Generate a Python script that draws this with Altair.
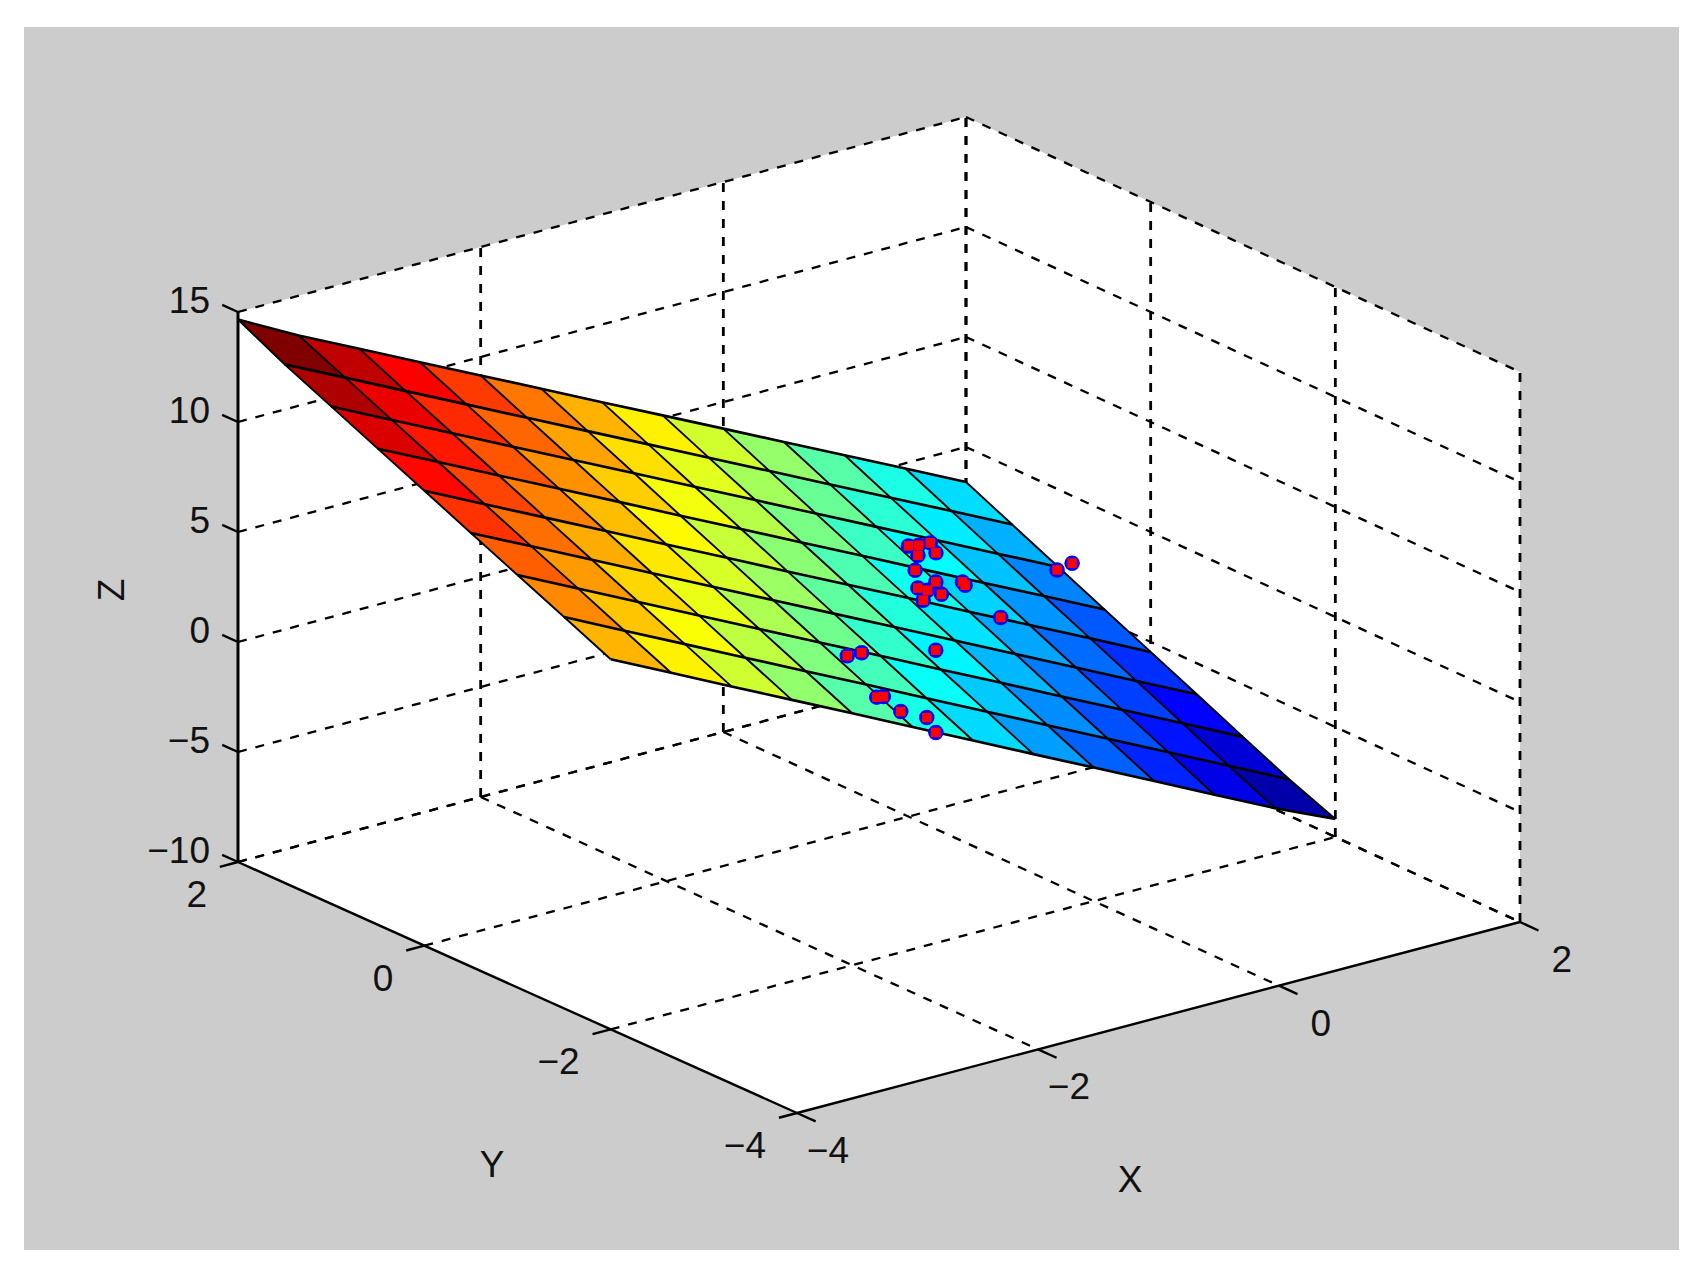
import altair as alt
import pandas as pd

# ---- data ----
x_grid = [-4, -3.5, -3, -2.5, -2, -1.5, -1, -0.5, 0, 0.5, 1, 1.5, 2]
y_grid = [2, 1.5, 1, 0.5, 0, -0.5, -1, -1.5, -2]
z_rows = [
    [14.66, 13.19, 11.85, 10.50, 9.16, 7.82, 6.47, 5.13, 3.79, 2.44, 1.10, -0.24, -1.59],
    [13.57, 12.23, 10.88, 9.54, 8.19, 6.85, 5.51, 4.16, 2.82, 1.47, 0.13, -1.21, -2.56],
    [12.61, 11.26, 9.92, 8.57, 7.23, 5.89, 4.54, 3.20, 1.85, 0.51, -0.83, -2.18, -3.52],
    [11.64, 10.30, 8.95, 7.61, 6.27, 4.92, 3.58, 2.23, 0.89, -0.46, -1.80, -3.14, -4.49],
    [10.68, 9.33, 7.99, 6.65, 5.30, 3.96, 2.61, 1.27, -0.07, -1.42, -2.76, -4.10, -5.45],
    [9.71, 8.37, 7.03, 5.68, 4.34, 2.99, 1.65, 0.31, -1.04, -2.38, -3.73, -5.07, -6.41],
    [8.75, 7.41, 6.06, 4.72, 3.37, 2.03, 0.69, -0.66, -2.00, -3.35, -4.69, -6.03, -7.38],
    [7.79, 6.44, 5.10, 3.75, 2.41, 1.07, -0.28, -1.62, -2.97, -4.31, -5.65, -7.00, -8.34],
    [6.82, 5.48, 4.13, 2.79, 1.45, 0.10, -1.24, -2.59, -3.93, -5.27, -6.62, -7.96, -9.18],
]
pts_x = [0.587, 0.705, 0.86, 0.579, 0.803, 0.37, 0.457, 0.188, 0.269, 0.371, 0.102, 0.747,
         0.737, 0.741, 1.917, 2.161, -0.359, -1.394, -1.201, -1.57, -1.49, -1.48, -1.267, -1.347]
pts_y = [0.769, 0.814, 0.891, 0.656, 0.755, 0.413, 0.303, 0.146, 0.146, 0.13, -0.025, 0.395,
         0.353, -0.026, 0.905, 1.062, -0.762, -1.158, -1.061, -1.704, -1.672, -1.846, -1.849, -2.051]
pts_z = [-0.039, -0.269, -0.538, -0.235, -0.646, -0.142, -0.587, -0.167, -0.385, -0.689, -0.265, -1.19,
         -1.244, -1.985, -3.352, -3.705, -0.447, 1.572, 1.24, 0.993, 0.839, 0.477, -0.101, -0.275]
x_ticks = [-4, -2, 0, 2]
y_ticks = [-4, -2, 0, 2]
z_ticks = [-10, -5, 0, 5, 10, 15]

# ---- view geometry (3D box -> picture) ----
W, H = 1680, 1250
A, B, C, D = (230, 854), (789, 1105), (1512, 914), (958, 659)
ZPX = 22.0
XMIN, XMAX, YMIN, YMAX, ZMIN, ZMAX = -4, 2, -4, 2, -10, 15


def proj(x, y, z):
    u = (x - XMIN) / (XMAX - XMIN)
    v = (YMAX - y) / (YMAX - YMIN)
    px = (1 - u) * (1 - v) * A[0] + (1 - u) * v * B[0] + u * v * C[0] + u * (1 - v) * D[0]
    py = (1 - u) * (1 - v) * A[1] + (1 - u) * v * B[1] + u * v * C[1] + u * (1 - v) * D[1]
    return px, py - (z - ZMIN) * ZPX


def poly(corners, **props):
    ring = [list(proj(*c)) for c in corners]
    ring.append(ring[0])
    return {"type": "Feature", "properties": props,
            "geometry": {"type": "Polygon", "coordinates": [ring]}}


identity = dict(type="identity", scale=1, translate=[0, 0])
sx = alt.Scale(domain=[0, W], nice=False, zero=False)
sy = alt.Scale(domain=[H, 0], nice=False, zero=False)
X = alt.X("px:Q", scale=sx, axis=None)
Y = alt.Y("py:Q", scale=sy, axis=None)

# grey figure background
bg = alt.Chart(pd.DataFrame({"a": [0]})).mark_rect(color="#cccccc").encode(
    x=alt.value(16), x2=alt.value(1671), y=alt.value(19), y2=alt.value(1242))

# white axes box
box = poly([(-4, 2, -10), (-4, -4, -10), (2, -4, -10), (2, -4, 15), (2, 2, 15), (-4, 2, 15)], z=0)
box_layer = alt.Chart(alt.Data(values=[box])).mark_geoshape(
    fill="white", strokeWidth=0).project(**identity)


def line_frame(segs):
    rows = []
    for g, seg in enumerate(segs):
        for i, p in enumerate(seg):
            px, py = proj(*p)
            rows.append({"g": g, "i": i, "px": px, "py": py})
    return pd.DataFrame(rows)


def lines(segs, width, dash=None):
    kw = {"strokeDash": dash} if dash else {}
    return alt.Chart(line_frame(segs)).mark_line(color="black", strokeWidth=width, **kw).encode(
        x=X, y=Y, detail="g:N", order="i:Q")


# dashed grid (the X=-4 vertical and the Y=-4 floor line sit under the solid axes)
grid_slant = []
grid_vert = []
for z in z_ticks:
    grid_slant.append([(-4, 2, z), (2, 2, z)])
    grid_slant.append([(2, 2, z), (2, -4, z)])
for x in x_ticks[1:]:
    grid_vert.append([(x, 2, -10), (x, 2, 15)])
    grid_slant.append([(x, 2, -10), (x, -4, -10)])
for y in y_ticks:
    grid_vert.append([(2, y, -10), (2, y, 15)])
for y in y_ticks[1:3]:
    grid_slant.append([(-4, y, -10), (2, y, -10)])
grid_slant.append([(-4, 2, -10), (2, 2, -10)])
grid_s_layer = lines(grid_slant, 2.3, [9, 9])
grid_v_layer = lines(grid_vert, 2.8, [9, 9])

# surface
cells = []
for r in range(len(y_grid) - 1):
    for c in range(len(x_grid) - 1):
        cells.append(poly([
            (x_grid[c], y_grid[r], z_rows[r][c]),
            (x_grid[c + 1], y_grid[r], z_rows[r][c + 1]),
            (x_grid[c + 1], y_grid[r + 1], z_rows[r + 1][c + 1]),
            (x_grid[c], y_grid[r + 1], z_rows[r + 1][c]),
        ], z=z_rows[r][c]))
lo, hi = -7.93, 14.6
stops = [lo + t * (hi - lo) for t in (0, 0.125, 0.375, 0.625, 0.875, 1)]
jet = ["#000080", "#0000ff", "#00ffff", "#ffff00", "#ff0000", "#800000"]
surface = alt.Chart(alt.Data(values=cells)).mark_geoshape(strokeWidth=0).encode(
    fill=alt.Fill("properties.z:Q", legend=None,
                  scale=alt.Scale(domain=stops, range=jet, interpolate="rgb", clamp=True))
).project(**identity)
mesh_x = [[(x_grid[c], y_grid[r], z_rows[r][c]) for c in range(len(x_grid))] for r in range(len(y_grid))]
mesh_y = [[(x_grid[c], y_grid[r], z_rows[r][c]) for r in range(len(y_grid))] for c in range(len(x_grid))]
mesh_x_layer = lines(mesh_x, 2.6)
mesh_y_layer = lines(mesh_y, 1.9)

# solid axes and ticks
axes_y = [[(-4, 2, -10), (-4, -4, -10)]]
axes_x = [[(-4, -4, -10), (2, -4, -10)]]
axes_z = [[(-4, 2, -10), (-4, 2, 15)]]
ticks = []
for z in z_ticks:
    ticks.append([(-4, 2, z), (-4, 2.17, z)])
for y in y_ticks:
    ticks.append([(-4, y, -10), (-4.15, y, -10)])
for x in x_ticks:
    ticks.append([(x, -4, -10), (x, -4.2, -10)])
thin = lines(axes_x + axes_y + ticks, 2.4)
thick = lines(axes_z, 3)

# scatter points
pxy = [proj(a, b, c) for a, b, c in zip(pts_x, pts_y, pts_z)]
pts = pd.DataFrame({"px": [p[0] for p in pxy], "py": [p[1] for p in pxy]})
blue = alt.Chart(pts).mark_point(shape="circle", filled=True, size=240, color="#0000ff", opacity=1).encode(x=X, y=Y)
red = alt.Chart(pts).mark_point(shape="square", filled=True, size=92, color="#ff0000", opacity=1).encode(x=X, y=Y)


# tick labels
def fmt(v):
    return str(v).replace("-", "\u2212")


FONT = "Liberation Sans"
TXT = "#111111"


def labels(rows, align, dx, dy):
    frame = []
    for p, v in rows:
        px, py = proj(*p)
        frame.append({"px": px, "py": py, "t": fmt(v)})
    return alt.Chart(pd.DataFrame(frame)).mark_text(
        font=FONT, fontSize=37, color=TXT, align=align, baseline="middle", dx=dx, dy=dy
    ).encode(x=X, y=Y, text="t:N")


z_lab = labels([((-4, 2, z), z) for z in z_ticks], "right", -28, -10)
y_lab = labels([((-4, y, -10), y) for y in y_ticks], "right", -31, 34)
x_lab = labels([((x, -4, -10), x) for x in x_ticks], "right", 52, 39)


def title(text, x, y, angle=0):
    return alt.Chart(pd.DataFrame({"t": [text]})).mark_text(
        font=FONT, fontSize=37, color=TXT, align="center", baseline="middle", angle=angle
    ).encode(x=alt.value(x), y=alt.value(y), text="t:N")


t_z = title("Z", 105, 582, 270)
t_y = title("Y", 484, 1158)
t_x = title("X", 1122, 1173)

chart = alt.layer(
    bg, box_layer, grid_s_layer, grid_v_layer, surface, mesh_y_layer, mesh_x_layer,
    thin, thick, blue, red, z_lab, y_lab, x_lab, t_z, t_y, t_x
).properties(
    width=W, height=H, padding=0, background="white"
).configure_view(stroke=None)

chart.save("out.html", embed_options={"renderer": "svg", "actions": False})
